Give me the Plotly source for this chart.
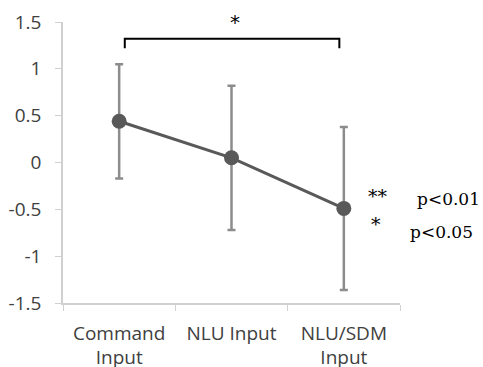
import plotly.graph_objects as go

categories = ["Command<br>Input", "NLU Input", "NLU/SDM<br>Input"]
means = [0.44, 0.05, -0.49]
errors = [0.61, 0.77, 0.87]
y_ticks = [1.5, 1, 0.5, 0, -0.5, -1, -1.5]
y_tick_labels = ["1.5", "1", "0.5", "0", "-0.5", "-1", "-1.5"]

fig = go.Figure()
fig.add_trace(go.Scatter(
    x=categories, y=means, mode="lines+markers",
    line=dict(color="#595959", width=3),
    marker=dict(color="#595959", size=15),
    error_y=dict(type="data", array=errors, visible=True, color="#8c8c8c",
                 thickness=2.5, width=4),
    cliponaxis=False,
))

axis_font = dict(family="Open Sans, DejaVu Sans, sans-serif", size=19, color="#404040")

fig.update_layout(
    width=483, height=367,
    margin=dict(l=63, r=83, t=22, b=64),
    plot_bgcolor="white", paper_bgcolor="white",
    showlegend=False,
    xaxis=dict(type="category", showline=True, linecolor="#d0d0d0", linewidth=1.5,
               ticks="outside", tickson="boundaries", ticklen=6, tickcolor="#d0d0d0",
               showgrid=False, tickfont=axis_font, range=[-0.5, 2.5],
               ticklabelstandoff=12, automargin=False),
    yaxis=dict(range=[-1.5, 1.5], tickvals=y_ticks, ticktext=y_tick_labels,
               showline=True, linecolor="#d0d0d0", linewidth=1.5,
               ticks="outside", ticklen=6, tickcolor="#d0d0d0",
               showgrid=False, zeroline=False, tickfont=axis_font,
               ticklabelstandoff=10, automargin=False),
)

# significance bracket between first and last category
fig.add_shape(type="path", xref="x", yref="y",
              path="M 0.05,1.22 L 0.05,1.32 L 1.96,1.32 L 1.96,1.22",
              line=dict(color="black", width=2))
fig.add_annotation(x=1.03, y=1.5, xref="x", yref="y", text="*", showarrow=False,
                   font=dict(family="DejaVu Sans", size=20, color="black"))

serif = dict(family="DejaVu Serif, Liberation Serif, serif", size=17, color="black")
star = dict(family="DejaVu Serif, Liberation Serif, serif", size=19, color="black")
fig.add_annotation(x=0.935, y=0.38, xref="paper", yref="paper", text="**", showarrow=False,
                   font=star, xanchor="center")
fig.add_annotation(x=1.045, y=0.37, xref="paper", yref="paper", text="p&lt;0.01",
                   showarrow=False, font=serif, xanchor="left")
fig.add_annotation(x=0.929, y=0.235, xref="paper", yref="paper", text="*", showarrow=False,
                   font=star, xanchor="center")
fig.add_annotation(x=1.025, y=0.21, xref="paper", yref="paper", text="p&lt;0.05",
                   showarrow=False, font=serif, xanchor="left")

fig.write_html("out.html", config={"displayModeBar": False},
               post_script="document.body.style.margin='0';document.body.style.overflow='hidden';")
